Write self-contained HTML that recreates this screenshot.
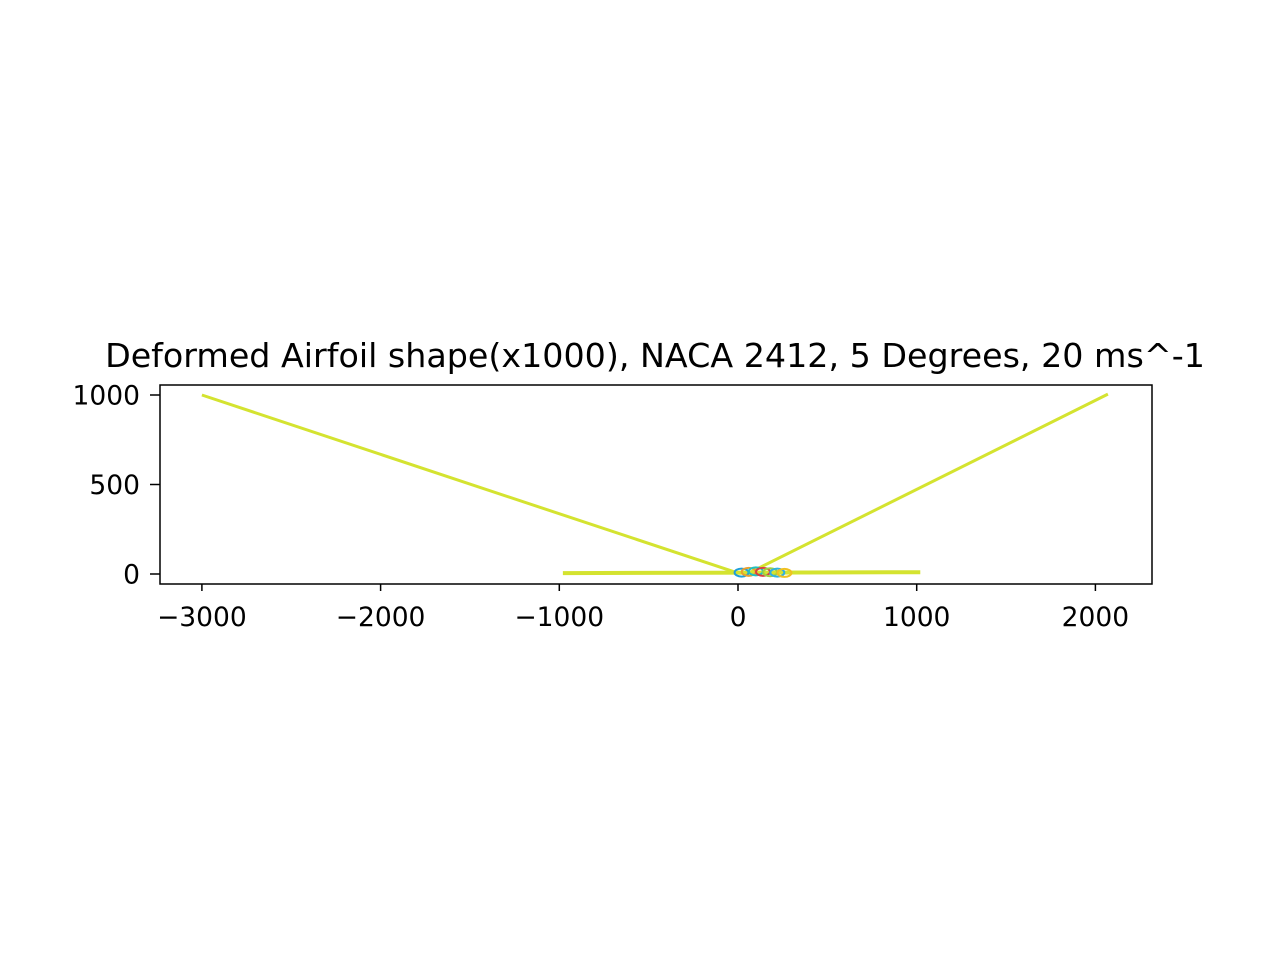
<!DOCTYPE html>
<html><head><meta charset="utf-8"><style>
body{margin:0;background:#fff;}
svg{display:block;font-family:"DejaVu Sans","Liberation Sans",sans-serif;}
</style></head><body>
<svg id="chart" width="1280" height="960">
<rect width="1280" height="960" fill="#fff"/>
<text x="655" y="367" font-size="33.3" text-anchor="middle">Deformed Airfoil shape(x1000), NACA 2412, 5 Degrees, 20 ms^-1</text>
<g id="plot"></g>
<rect x="160" y="385" width="992" height="199" fill="none" stroke="#000" stroke-width="1.5"/>
<g id="axes"></g>
</svg>
<script>
const xTicks=[-3000,-2000,-1000,0,1000,2000];
const yTicks=[0,500,1000];
const lineAX=[-3000,0], lineAY=[1000,5];
const lineBX=[70,2070], lineBY=[10,1005];
const lineCX=[-980,1020], lineCY=[5,10];
const blobX=[20,60,100,140,180,220,260];
const blobY=[8,12,15,12,10,8,6];
const blobColors=['#1f9fd8','#e8a030','#20c0c0','#d84040','#a0d040','#30b0e0','#f0c020'];
const sx=v=>738+v*0.1787, sy=v=>574-v*0.179;
const NS='http://www.w3.org/2000/svg';
const plot=document.getElementById('plot'), axes=document.getElementById('axes');
function mk(tag,attrs,parent){const e=document.createElementNS(NS,tag);for(const k in attrs)e.setAttribute(k,attrs[k]);parent.appendChild(e);return e;}
[[lineAX,lineAY,'line-left'],[lineBX,lineBY,'line-right'],[lineCX,lineCY,'line-horizontal']].forEach(([xs,ys,n])=>{
 const l=mk('polyline',{points:xs.map((x,i)=>sx(x)+','+sy(ys[i])).join(' '),fill:'none',stroke:'#d4e330','stroke-width':n==='line-horizontal'?4:3},plot);
 
 
});
blobX.forEach((x,i)=>{
 const e=mk('ellipse',{cx:sx(x),cy:sy(blobY[i]),rx:7,ry:4,fill:'none',stroke:blobColors[i],'stroke-width':2},plot);
 
 
});
xTicks.forEach(t=>{
 const x=sx(t);
 mk('line',{x1:x,x2:x,y1:584,y2:591,stroke:'#000','stroke-width':1.5},axes);
 const tx=mk('text',{x:x,y:626,'font-size':26.5,'text-anchor':'middle'},axes);
 tx.textContent=(t<0?'\u2212'+(-t):t);
 
 
});
yTicks.forEach(t=>{
 const y=sy(t);
 mk('line',{x1:150,x2:160,y1:y,y2:y,stroke:'#000','stroke-width':1.5},axes);
 const tx=mk('text',{x:140,y:y+9.5,'font-size':26.5,'text-anchor':'end'},axes);
 tx.textContent=t;
 
 
});
</script>
</body></html>
